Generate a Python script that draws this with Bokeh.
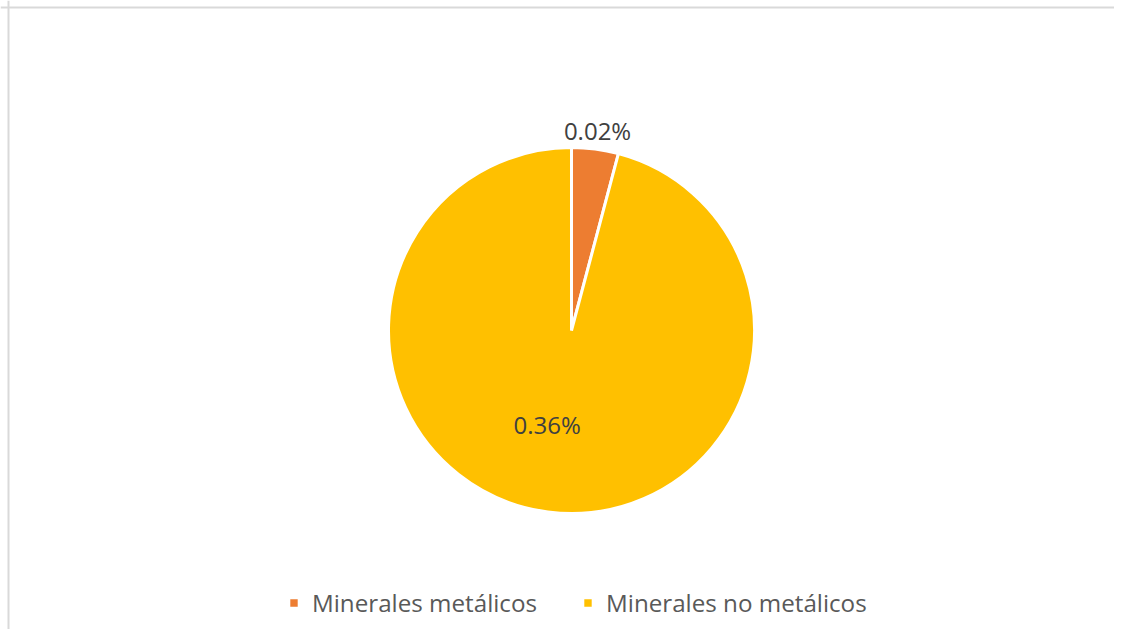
import math
from bokeh.plotting import figure
from bokeh.models import Range1d, Span, Legend, LegendItem, ColumnDataSource
from bokeh.core.properties import value
from bokeh.embed import file_html
from bokeh.resources import INLINE

# ---- data ----
categories = ["Minerales metálicos", "Minerales no metálicos"]
values = [0.0155, 0.36]
colors = ["#ED7D31", "#FFC000"]

W, H = 1114, 629
cx, cy, R = 571, 299, 183

p = figure(width=W, height=H, output_backend="svg", toolbar_location=None,
           x_range=Range1d(0, W), y_range=Range1d(0, H),
           min_border=0, outline_line_color=None)
p.axis.visible = False
p.xgrid.visible = False
p.ygrid.visible = False
p.background_fill_color = "white"
p.border_fill_color = "white"

total = sum(values)
cum = 0.0
starts, ends, lx, ly, labels = [], [], [], [], []
for v in values:
    f0 = cum / total
    cum += v
    f1 = cum / total
    a_start = math.pi / 2 - 2 * math.pi * f0
    a_end = math.pi / 2 - 2 * math.pi * f1
    starts.append(a_end)
    ends.append(a_start)
    frac = v / total
    mid = (a_start + a_end) / 2
    rr = 1.10 * R if frac < 0.1 else 0.52 * R
    off = 0 if frac < 0.1 else -12
    lx.append(cx + rr * math.cos(mid) + off)
    ly.append(cy + rr * math.sin(mid))
    labels.append(f"{v:.2f}%")

src = ColumnDataSource(dict(start=starts, end=ends, color=colors, cat=categories))
wr = p.wedge(x=cx, y=cy, radius=R, start_angle="start", end_angle="end",
             fill_color="color", line_color="white", line_width=3, source=src)

p.text(x=lx, y=ly, text=labels, text_align="center", text_baseline="middle",
       text_font=value("Open Sans"), text_font_size="24px", text_color="#404040")

items = [LegendItem(label=c, renderers=[wr], index=i) for i, c in enumerate(categories)]
legend = Legend(items=items, orientation="horizontal", location=(287, 10),
                glyph_width=13, glyph_height=13, label_standoff=12, spacing=44,
                padding=0, margin=0, border_line_color=None, background_fill_alpha=0,
                label_text_font="Open Sans", label_text_font_size="24.2px",
                label_text_color="#595959")
p.add_layout(legend, "center")

p.add_layout(Span(location=H - 7, dimension="width", line_color="#D9D9D9", line_width=2))
p.add_layout(Span(location=8, dimension="height", line_color="#D9D9D9", line_width=2))

open("out.html", "w").write(file_html(p, INLINE))
